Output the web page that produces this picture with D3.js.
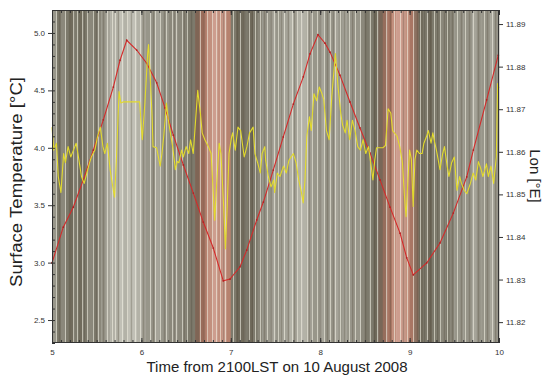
<!DOCTYPE html>
<html>
<head>
<meta charset="utf-8">
<script src="https://cdn.jsdelivr.net/npm/d3@7"></script>
<style>
  body { margin: 0; background: #fff; }
  text { font-family: "Liberation Sans", Arial, sans-serif; }
</style>
</head>
<body>
<svg id="chart" width="551" height="378"></svg>
<script>
// surface temperature (left axis): [hours, degC]
const tempSeries = [
  [5.00,4.18],[5.02,3.98],[5.05,4.04],[5.07,3.75],[5.10,3.61],[5.13,3.95],[5.15,3.87],[5.18,4.01],
  [5.21,3.92],[5.24,3.98],[5.27,4.04],[5.29,3.95],[5.33,3.75],[5.36,3.69],[5.39,3.78],[5.42,3.87],
  [5.44,3.92],[5.48,3.98],[5.51,4.10],[5.54,4.18],[5.57,4.01],[5.59,3.95],[5.62,4.04],[5.65,3.81],
  [5.68,3.66],[5.70,3.57],[5.72,3.89],[5.75,4.49],[5.77,4.39],[5.80,4.40],[5.98,4.40],[6.01,4.07],
  [6.04,4.40],[6.07,4.82],[6.08,4.90],[6.10,4.59],[6.12,4.27],[6.13,4.01],[6.17,4.00],[6.19,3.92],
  [6.21,3.84],[6.23,3.95],[6.25,4.10],[6.28,4.39],[6.30,4.25],[6.32,4.15],[6.35,4.01],[6.38,3.81],
  [6.40,3.88],[6.42,3.87],[6.45,3.98],[6.47,3.92],[6.50,4.01],[6.53,3.95],[6.55,4.07],[6.58,3.95],
  [6.63,4.50],[6.66,4.30],[6.68,4.13],[6.71,4.07],[6.75,4.01],[6.78,3.95],[6.80,3.66],[6.82,3.37],
  [6.84,3.66],[6.87,4.04],[6.89,3.95],[6.92,3.49],[6.94,3.12],[6.96,3.49],[6.98,3.95],[7.01,4.10],
  [7.02,4.13],[7.05,3.98],[7.08,4.18],[7.11,4.15],[7.15,3.92],[7.18,4.01],[7.21,4.13],[7.25,4.18],
  [7.27,3.95],[7.30,3.87],[7.33,3.78],[7.35,3.95],[7.38,4.01],[7.39,3.89],[7.42,3.75],[7.45,3.66],
  [7.48,3.72],[7.49,3.61],[7.52,3.78],[7.55,3.75],[7.59,3.84],[7.62,3.78],[7.65,3.89],[7.70,3.95],
  [7.73,3.87],[7.76,3.72],[7.79,3.61],[7.81,3.52],[7.83,3.72],[7.85,4.10],[7.88,4.27],[7.90,4.15],
  [7.93,4.47],[7.96,4.41],[7.99,4.53],[8.02,4.47],[8.04,4.42],[8.07,4.15],[8.10,4.07],[8.13,4.45],
  [8.17,4.82],[8.20,4.53],[8.23,4.30],[8.25,4.20],[8.28,4.13],[8.30,4.24],[8.33,4.07],[8.36,4.24],
  [8.39,4.15],[8.42,4.01],[8.45,3.98],[8.48,4.07],[8.51,3.95],[8.54,4.01],[8.57,3.84],[8.59,3.72],
  [8.61,3.89],[8.63,4.00],[8.70,4.00],[8.73,4.02],[8.76,4.34],[8.79,4.30],[8.81,4.15],[8.84,4.12],
  [8.86,4.10],[8.89,4.01],[8.92,3.87],[8.94,3.61],[8.96,3.40],[8.98,3.70],[9.00,3.98],[9.02,3.90],
  [9.04,3.49],[9.06,3.90],[9.08,3.98],[9.11,3.95],[9.14,3.95],[9.16,4.04],[9.19,4.10],[9.21,4.15],
  [9.24,4.04],[9.26,4.13],[9.28,4.05],[9.30,3.98],[9.34,3.81],[9.37,3.95],[9.39,4.01],[9.42,3.84],
  [9.44,3.75],[9.47,3.87],[9.50,3.92],[9.53,3.63],[9.56,3.75],[9.58,3.69],[9.61,3.63],[9.64,3.60],
  [9.68,3.69],[9.71,3.78],[9.74,3.72],[9.77,3.88],[9.80,3.81],[9.82,3.75],[9.86,3.86],[9.88,3.75],
  [9.91,3.84],[9.94,3.69],[9.97,3.92],[9.985,4.56],[10.0,4.52]
];

// longitude (right axis): [hours, degE]
const lonSeries = [
  [5.000,11.8339],[5.126,11.8423],[5.238,11.8470],[5.350,11.8534],[5.462,11.8604],[5.574,11.8675],
  [5.686,11.8752],[5.761,11.8815],[5.836,11.8862],[5.947,11.8839],[6.059,11.8808],[6.171,11.8762],
  [6.264,11.8703],[6.357,11.8639],[6.469,11.8569],[6.581,11.8503],[6.692,11.8435],[6.804,11.8374],
  [6.916,11.8297],[6.991,11.8301],[7.103,11.8330],[7.178,11.8369],[7.290,11.8440],[7.364,11.8482],
  [7.475,11.8557],[7.587,11.8635],[7.699,11.8712],[7.811,11.8776],[7.886,11.8830],[7.975,11.8875],
  [8.054,11.8855],[8.110,11.8834],[8.221,11.8780],[8.333,11.8717],[8.445,11.8656],[8.557,11.8597],
  [8.669,11.8534],[8.781,11.8470],[8.893,11.8409],[8.968,11.8351],[9.041,11.8311],[9.191,11.8339],
  [9.340,11.8386],[9.489,11.8456],[9.639,11.8541],[9.713,11.8604],[9.862,11.8722],[9.992,11.8827]
];

// background strips, one per 0.05 h from 5.00: shade 0 (dark) .. 10 (light), tint 0..1 (pink)
const stripeStep = 0.05;
const stripeShade = [
  5,3,4,3,2,3,2,3,4,3, 4,5,6,7,7,8,7,8,8,7,
  6,5,5,6,5,5,4,5,4,4, 3,3,2,3,5,6,7,6,7,5,
  3,2,2,3,2,3,4,5,5,6, 5,6,6,7,6,7,7,6,5,5,
  6,5,5,6,5,6,5,5,5,4, 3,3,2,2,3,4,6,7,7,6,
  4,3,2,3,2,3,3,4,3,4, 5,5,5,5,6,5,5,5,6,5
];
const stripeTint = [
  0,0,0,0,0,0,0,0,0,0, 0,0,0,0,0,0,0,0,0,0,
  0,0,0,0,0,0,0,0,0,0, 0,0,0.5,0.9,1,1,1,1,1,1,
  0,0,0,0,0,0,0,0,0,0, 0,0,0,0,0,0,0,0,0,0,
  0,0,0,0,0,0,0,0,0,0, 0,0,0,0.3,0.8,1,1,1,1,1,
  1,0.5,0,0,0,0,0,0,0,0, 0,0,0,0,0,0,0,0,0,0
];
// thin bright lines in the background
const lightLines = [
  5.05,5.15,5.24,5.28,5.33,5.39,5.46,5.52,5.61,5.67,5.71,5.78,5.84,5.93,5.98,6.10,6.15,
  6.21,6.28,6.34,6.39,6.45,6.51,6.66,6.73,6.79,6.84,6.88,6.94,7.03,7.10,7.20,7.27,7.33,
  7.40,7.48,7.53,7.59,7.68,7.74,7.79,7.85,7.91,7.96,8.04,8.11,8.17,8.22,8.32,8.39,8.45,
  8.56,8.63,8.74,8.82,8.89,8.97,9.04,9.12,9.19,9.27,9.34,9.42,9.53,9.62,9.71,9.83,9.92
];
// thin dark lines in the background
const darkLines = [
  5.08,5.19,5.36,5.49,5.57,5.74,5.88,6.02,6.13,6.25,6.37,6.48,6.56,6.70,6.91,7.07,7.15,
  7.24,7.37,7.45,7.56,7.64,7.71,7.88,8.00,8.08,8.14,8.27,8.36,8.50,8.60,8.78,8.93,9.08,
  9.16,9.23,9.31,9.38,9.47,9.57,9.66,9.76,9.87,9.96
];

const tempTicks = [2.5, 3.0, 3.5, 4.0, 4.5, 5.0];
const lonTicks = [11.82, 11.83, 11.84, 11.85, 11.86, 11.87, 11.88, 11.89];
const timeTicks = [5, 6, 7, 8, 9, 10];

const plotLeft = 52, plotRight = 499, plotTop = 10, plotBottom = 343;

const svg = d3.select('#chart');

const x = d3.scaleLinear().domain([5, 10]).range([plotLeft, plotRight]);
const yTemp = d3.scaleLinear().domain([2.3, 5.2]).range([plotBottom, plotTop]);
const yLon = d3.scaleLinear().domain([11.8151, 11.8933]).range([plotBottom, plotTop]);

const grayRamp = d3.scaleLinear().domain([0, 5, 10]).range(['#554f3e', '#98968a', '#dcdcd3']);
const pinkRamp = d3.scaleLinear().domain([0, 5, 10]).range(['#744636', '#b6826f', '#f0c6bc']);
const stripeColor = (s, t) => d3.interpolateRgb(grayRamp(s), pinkRamp(s))(t);

// background
svg.append('g')
  .selectAll('rect')
  .data(stripeShade)
  .enter()
  .append('rect')
  .attr('x', (d, i) => x(5 + i * stripeStep))
  .attr('y', plotTop)
  .attr('width', (d, i) => x(5 + (i + 1) * stripeStep) - x(5 + i * stripeStep) + 0.4)
  .attr('height', plotBottom - plotTop)
  .attr('fill', (d, i) => stripeColor(d, stripeTint[i]));

svg.append('g')
  .selectAll('line')
  .data(darkLines)
  .enter()
  .append('line')
  .attr('x1', d => Math.round(x(d)) + 0.5)
  .attr('x2', d => Math.round(x(d)) + 0.5)
  .attr('y1', plotTop)
  .attr('y2', plotBottom)
  .attr('stroke', '#3e3828')
  .attr('stroke-opacity', 0.25)
  .attr('stroke-width', 1.5);

svg.append('g')
  .selectAll('line')
  .data(lightLines)
  .enter()
  .append('line')
  .attr('x1', d => Math.round(x(d)) + 0.5)
  .attr('x2', d => Math.round(x(d)) + 0.5)
  .attr('y1', plotTop)
  .attr('y2', plotBottom)
  .attr('stroke', '#f2f0e2')
  .attr('stroke-opacity', 0.6)
  .attr('stroke-width', 1);

// lines
let lonLine = d3.line()
  .x(d => x(d[0]))
  .y(d => yLon(d[1]));

let tempLine = d3.line()
  .x(d => x(d[0]))
  .y(d => yTemp(d[1]));

svg.append('path')
  .datum(lonSeries)
  .attr('d', lonLine)
  .attr('fill', 'none')
  .attr('stroke', '#d42a2a')
  .attr('stroke-width', 1.1);

svg.append('g')
  .selectAll('circle')
  .data(lonSeries)
  .enter()
  .append('circle')
  .attr('cx', d => x(d[0]))
  .attr('cy', d => yLon(d[1]))
  .attr('r', 0.9)
  .attr('fill', '#b02222');

svg.append('path')
  .datum(tempSeries)
  .attr('d', tempLine)
  .attr('fill', 'none')
  .attr('stroke', '#e2da2c')
  .attr('stroke-width', 1.1)
  .attr('stroke-linejoin', 'round');

// frame
svg.append('rect')
  .attr('x', plotLeft + 0.5)
  .attr('y', plotTop + 0.5)
  .attr('width', plotRight - plotLeft - 1)
  .attr('height', plotBottom - plotTop - 1)
  .attr('fill', 'none')
  .attr('stroke', '#333')
  .attr('stroke-width', 1);

// axes
const minorTime = d3.range(50, 101).map(v => v / 10);
const minorTemp = d3.range(23, 53).map(v => v / 10);

function styleAxis(g) {
  g.select('.domain').remove();
  g.selectAll('line').attr('stroke', '#333');
  g.selectAll('text').attr('fill', '#333').style('font-size', '8px');
}

svg.append('g')
  .attr('transform', `translate(0,${plotBottom})`)
  .call(d3.axisBottom(x).tickValues(minorTime).tickSize(-3).tickFormat(''))
  .call(styleAxis);
svg.append('g')
  .attr('transform', `translate(0,${plotBottom})`)
  .call(d3.axisBottom(x).tickValues(timeTicks).tickSize(-5).tickPadding(6).tickFormat(d3.format('d')))
  .call(styleAxis);
svg.append('g')
  .attr('transform', `translate(0,${plotTop})`)
  .call(d3.axisTop(x).tickValues(minorTime).tickSize(-3).tickFormat(''))
  .call(styleAxis);
svg.append('g')
  .attr('transform', `translate(0,${plotTop})`)
  .call(d3.axisTop(x).tickValues(timeTicks).tickSize(-5).tickFormat(''))
  .call(styleAxis);

svg.append('g')
  .attr('transform', `translate(${plotLeft},0)`)
  .call(d3.axisLeft(yTemp).tickValues(minorTemp).tickSize(-3).tickFormat(''))
  .call(styleAxis);
svg.append('g')
  .attr('transform', `translate(${plotLeft},0)`)
  .call(d3.axisLeft(yTemp).tickValues(tempTicks).tickSize(4).tickPadding(3).tickFormat(d3.format('.1f')))
  .call(styleAxis);

svg.append('g')
  .attr('transform', `translate(${plotRight},0)`)
  .call(d3.axisRight(yLon).tickValues(lonTicks).tickSize(4).tickPadding(3).tickFormat(d3.format('.2f')))
  .call(styleAxis);

// titles
svg.append('text')
  .attr('transform', 'translate(22,182) rotate(-90)')
  .attr('text-anchor', 'middle')
  .attr('fill', '#222')
  .style('font-size', '16px')
  .attr('textLength', 210)
  .attr('lengthAdjust', 'spacingAndGlyphs')
  .text('Surface Temperature [°C]');

svg.append('text')
  .attr('transform', 'translate(530,176) rotate(90)')
  .attr('text-anchor', 'middle')
  .attr('fill', '#222')
  .style('font-size', '15px')
  .text('Lon [°E]');

svg.append('text')
  .attr('x', 277)
  .attr('y', 372)
  .attr('text-anchor', 'middle')
  .attr('fill', '#222')
  .style('font-size', '15px')
  .text('Time from 2100LST on 10 August 2008');
</script>
</body>
</html>
